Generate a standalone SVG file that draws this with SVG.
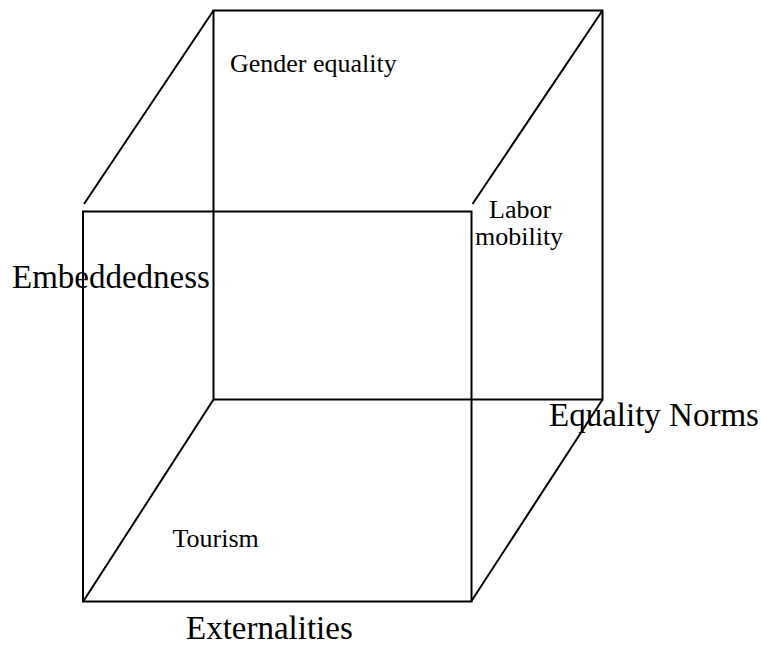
<svg xmlns="http://www.w3.org/2000/svg" width="761" height="646" viewBox="0 0 761 646">
  <style>
    .edge { fill: none; stroke: #000; stroke-width: 2; stroke-linecap: butt; }
    .lbl { font-family: "Liberation Serif", "Times New Roman", serif; fill: #000; }
    .big { font-size: 33px; }
    .small { font-size: 26px; }
  </style>
  <rect width="761" height="646" fill="#fff"/>
  <g id="cube-edges">
    <!-- back face -->
    <rect class="edge" x="213.5" y="10.5" width="389" height="389"/>
    <!-- front face -->
    <rect class="edge" x="83" y="211.5" width="388.5" height="390"/>
    <!-- depth edges -->
    <line class="edge" x1="84" y1="204" x2="213.5" y2="10.5"/>
    <line class="edge" x1="472.5" y1="204" x2="602.5" y2="10.5"/>
    <line class="edge" x1="213.5" y1="399.5" x2="83.5" y2="601"/>
    <line class="edge" x1="602.5" y1="399.5" x2="471.5" y2="601"/>
  </g>
  <g id="label-gender">
    <text class="lbl small" x="230" y="71.5">Gender equality</text>
  </g>
  <g id="label-labor">
    <text class="lbl small" x="489" y="217.5">Labor</text>
    <text class="lbl small" x="475" y="245">mobility</text>
  </g>
  <g id="label-embeddedness">
    <text class="lbl big" x="12" y="288">Embeddedness</text>
  </g>
  <g id="label-equality-norms">
    <text class="lbl big" x="549" y="426">Equality Norms</text>
  </g>
  <g id="label-tourism">
    <text class="lbl small" x="172.5" y="547">Tourism</text>
  </g>
  <g id="label-externalities">
    <text class="lbl big" x="186" y="639">Externalities</text>
  </g>
</svg>
